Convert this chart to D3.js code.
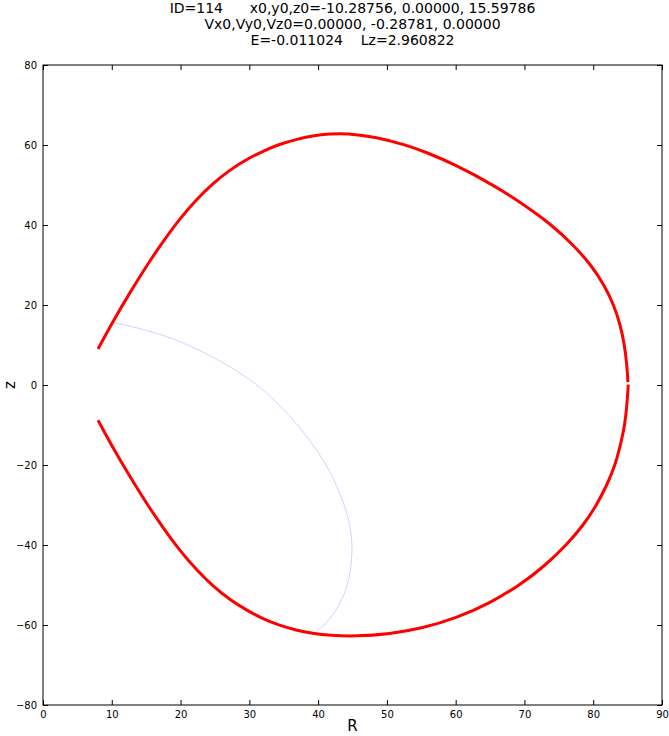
<!DOCTYPE html>
<html>
<head>
<meta charset="utf-8">
<script src="https://cdn.jsdelivr.net/npm/d3@7"></script>
<style>
  html, body { margin: 0; padding: 0; background: #fff; }
  svg { display: block; font-family: "DejaVu Sans", sans-serif; }
</style>
</head>
<body>
<svg id="chart" width="669" height="736"></svg>
<script>
// ---- data ----
const titleLines = [
  "ID=114      x0,y0,z0=-10.28756, 0.00000, 15.59786",
  "Vx0,Vy0,Vz0=0.00000, -0.28781, 0.00000",
  "E=-0.011024    Lz=2.960822"
];
const xTicks = [0, 10, 20, 30, 40, 50, 60, 70, 80, 90];
const yTicks = [-80, -60, -40, -20, 0, 20, 40, 60, 80];

// envelope of the orbit (R, z), upper branch
const upperR = [8.0, 10.2, 12.6, 15.05, 17.5, 19.9, 22.3, 24.7, 27.1, 29.6, 32.0, 34.4, 36.8, 39.2, 41.7, 44.1, 48.5, 52.8, 55.7, 59.8, 65.5, 70.0, 74.0, 77.1, 79.7, 81.6, 83.0, 83.95, 84.55, 84.9, 85.05];
const upperZ = [9.0, 16.0, 23.0, 29.8, 36.0, 41.6, 46.4, 50.4, 53.7, 56.4, 58.5, 60.2, 61.4, 62.3, 62.8, 62.95, 62.0, 60.0, 58.2, 55.2, 50.0, 45.0, 40.0, 35.0, 30.0, 25.0, 20.0, 15.0, 10.0, 5.0, 0.7];
// lower branch
const lowerR = [85.1, 84.9, 84.6, 83.96, 83.2, 82.0, 80.5, 78.6, 76.1, 73.1, 69.4, 64.9, 60.05, 55.2, 50.4, 45.5, 41.7, 39.2, 36.8, 34.4, 32.0, 29.6, 27.1, 24.7, 22.3, 19.9, 17.5, 15.05, 12.6, 10.2, 8.0];
const lowerZ = [0.1, -5.0, -10.0, -15.0, -20.0, -25.0, -30.0, -35.0, -40.0, -45.0, -50.0, -54.6, -58.3, -60.8, -62.25, -62.85, -62.6, -62.1, -61.3, -60.1, -58.5, -56.3, -53.6, -50.3, -46.2, -41.4, -35.8, -29.6, -22.8, -15.8, -8.8];
// initial orbit segment (thin blue)
const orbitR = [10.29, 14.1, 18.9, 23.8, 28.0, 31.5, 35.0, 38.8, 41.8, 43.8, 44.9, 45.0, 44.4, 43.0, 41.3, 39.6];
const orbitZ = [15.6, 14.2, 11.7, 7.9, 3.8, -0.3, -6.0, -13.5, -21.5, -29.5, -36.5, -43.0, -50.0, -55.5, -59.5, -61.8];

// ---- layout ----
const svg = d3.select("#chart");
const m = { left: 43, right: 662, top: 65, bottom: 705 };
const x = d3.scaleLinear().domain([0, 90]).range([m.left, m.right]);
const y = d3.scaleLinear().domain([-80, 80]).range([m.bottom, m.top]);

const clipId = "plotclip";
svg.append("defs").append("clipPath").attr("id", clipId)
  .append("rect").attr("x", m.left).attr("y", m.top)
  .attr("width", m.right - m.left).attr("height", m.bottom - m.top);

const smoothLine = d3.line().x(d => x(d[0])).y(d => y(d[1])).curve(d3.curveBasis);
const plot = svg.append("g").attr("clip-path", `url(#${clipId})`);

plot.append("path")
  .datum(orbitR.map((r, i) => [r, orbitZ[i]]))
  .attr("d", smoothLine).attr("fill", "none")
  .attr("stroke", "#0000ff").attr("stroke-opacity", 0.18).attr("stroke-width", 1);

[[upperR, upperZ], [lowerR, lowerZ]].forEach(([rs, zs]) => {
  plot.append("path")
    .datum(rs.map((r, i) => [r, zs[i]]))
    .attr("d", smoothLine).attr("fill", "none")
    .attr("stroke", "#ff0000").attr("stroke-width", 3)
    .attr("stroke-linejoin", "round");
});

// ---- axes (inward ticks on all sides) ----
const tl = 5;
const axB = d3.axisBottom(x).tickValues(xTicks).tickSizeInner(-tl).tickSizeOuter(0).tickPadding(6).tickFormat(d3.format("d"));
const axT = d3.axisTop(x).tickValues(xTicks).tickSizeInner(-tl).tickSizeOuter(0).tickFormat("");
const axL = d3.axisLeft(y).tickValues(yTicks).tickSizeInner(-tl).tickSizeOuter(0).tickPadding(6).tickFormat(d => d < 0 ? "\u2212" + Math.abs(d) : d);
const axR = d3.axisRight(y).tickValues(yTicks).tickSizeInner(-tl).tickSizeOuter(0).tickFormat("");

function styleAxis(g) {
  g.select(".domain").remove();
  g.selectAll("line").attr("stroke", "#000").attr("stroke-width", 1);
  g.selectAll("text").attr("font-size", 10).attr("fill", "#000")
    .attr("font-family", "DejaVu Sans, sans-serif");
}
svg.append("g").attr("transform", `translate(0,${m.bottom})`).call(axB).call(styleAxis);
svg.append("g").attr("transform", `translate(0,${m.top})`).call(axT).call(styleAxis);
svg.append("g").attr("transform", `translate(${m.left},0)`).call(axL).call(styleAxis);
svg.append("g").attr("transform", `translate(${m.right},0)`).call(axR).call(styleAxis);

svg.append("rect")
  .attr("x", m.left).attr("y", m.top)
  .attr("width", m.right - m.left).attr("height", m.bottom - m.top)
  .attr("fill", "none").attr("stroke", "#000").attr("stroke-width", 1);

// ---- labels ----
const cx = (m.left + m.right) / 2;
svg.append("g").selectAll("text").data(titleLines).join("text")
  .attr("x", cx).attr("y", (d, i) => 13 + i * 16)
  .attr("text-anchor", "middle").attr("font-size", 14)
  .style("white-space", "pre").attr("xml:space", "preserve")
  .text(d => d);

svg.append("text").attr("x", cx).attr("y", 731)
  .attr("text-anchor", "middle").attr("font-size", 15).text("R");
svg.append("text").attr("transform", `translate(15,${(m.top + m.bottom) / 2}) rotate(-90)`)
  .attr("text-anchor", "middle").attr("font-size", 15).text("z");
</script>
</body>
</html>
